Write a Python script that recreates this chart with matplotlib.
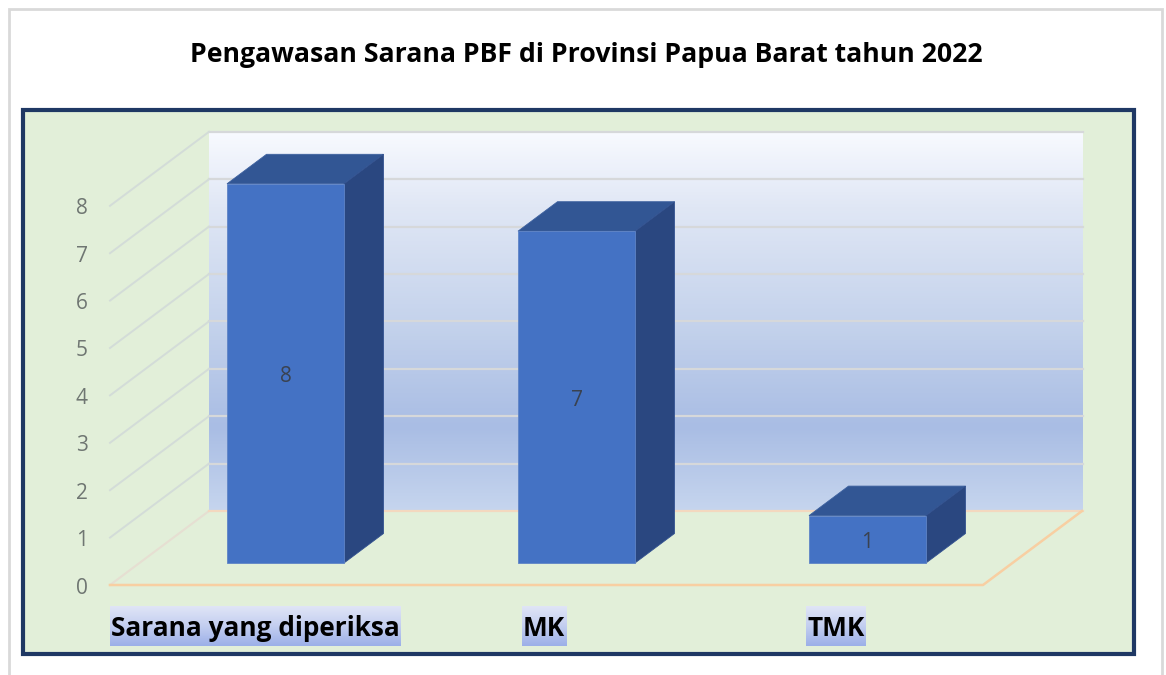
import numpy as np
import matplotlib
matplotlib.use("Agg")
import matplotlib.pyplot as plt
from matplotlib.colors import LinearSegmentedColormap
from matplotlib.patches import Polygon, Rectangle

title = "Pengawasan Sarana PBF di Provinsi Papua Barat tahun 2022"
categories = ["Sarana yang diperiksa", "MK", "TMK"]
values = [8, 7, 1]
yticks = [0, 1, 2, 3, 4, 5, 6, 7, 8]

W, H = 1166, 675
FONT = "Open Sans"
fig = plt.figure(figsize=(W / 100, H / 100), dpi=100, facecolor="white")
ax = fig.add_axes([0, 0, 1, 1])
ax.set_xlim(0, W)
ax.set_ylim(H, 0)
ax.axis("off")

# projection of the chart scale
unit = 47.4
x0, y0 = 110, 585          # front-left floor corner
dx, dy = 99, -74           # wall offset
floor_w = 873
bar_w, bar_off, bar_gap = 117, 117, 291
bar_dx, bar_dy = 39.5, -29.5


def vy(v):
    return y0 - unit * v


# outer frame and inner panel
ax.add_patch(Rectangle((9, 9), 1153, 680, fc="white", ec="#d9d9d9", lw=2, zorder=0))
ax.add_patch(Rectangle((23, 110), 1111, 543.5, fc="#e2efd9", ec="#1f3864", lw=3, zorder=1))

# wall gradient
wall = LinearSegmentedColormap.from_list(
    "wall", [(0, "#f8faff"), (0.2, "#e0e7f5"), (0.5, "#c5d3ec"), (0.78, "#a9bde4"), (1, "#c6d5ee")]
)
wall_top, wall_bot = vy(max(yticks)) + dy, y0 + dy
ax.imshow(np.linspace(0, 1, 256).reshape(-1, 1), cmap=wall, aspect="auto",
          extent=(x0 + dx, x0 + dx + floor_w + 1, wall_bot, wall_top), zorder=2)
ax.set_xlim(0, W)
ax.set_ylim(H, 0)

# gridlines
for t in yticks[1:]:
    y = vy(t)
    ax.plot([x0 + dx, x0 + dx + floor_w + 1], [y + dy, y + dy], color="#d6d8da", lw=1.6, zorder=3)
    ax.plot([x0, x0 + dx], [y, y + dy], color="#d3dcd8", lw=1.4, zorder=3)
for t in yticks:
    ax.text(82, vy(t) + 3, str(t), ha="center", va="center", fontsize=15,
            family=FONT, color="#6f7672", zorder=6)

# floor
floor_c = "#f8cfa2"
ax.plot([x0, x0 + dx], [y0, y0 + dy], color="#e6dfd2", lw=1.5, zorder=3)
ax.plot([x0 + dx, x0 + dx + floor_w + 1], [y0 + dy, y0 + dy], color="#f3d8bf", lw=1.6, zorder=3)
ax.plot([x0, x0 + floor_w, x0 + floor_w + dx], [y0, y0, y0 + dy], color=floor_c, lw=1.8, zorder=3)

# bars
base_y = 563
for i, v in enumerate(values):
    l = x0 + bar_off + bar_gap * i
    r = l + bar_w
    top = base_y - unit * v
    ec = "#5f84c6"
    ax.add_patch(Polygon([(l, top), (l + bar_dx, top + bar_dy), (r + bar_dx, top + bar_dy), (r, top)],
                         fc="#325694", ec="#3d619f", lw=0.6, zorder=4))
    ax.add_patch(Polygon([(r, top), (r + bar_dx, top + bar_dy), (r + bar_dx, base_y + bar_dy), (r, base_y)],
                         fc="#2a4780", ec="#335290", lw=0.6, zorder=4))
    ax.add_patch(Rectangle((l, top), bar_w, unit * v, fc="#4472c4", ec=ec, lw=0.6, zorder=5))
    ax.text((l + r) / 2, (top + base_y) / 2 + 3, str(v), ha="center", va="center", fontsize=15,
            family=FONT, color="#3a4250", zorder=6)

# category labels with gradient highlight
hl = LinearSegmentedColormap.from_list("hl", ["#e0e5f6", "#c3cef0", "#9cb0e8"])
label_x = [111, 523, 807]
fig.canvas.draw()
rend = fig.canvas.get_renderer()
for c, x in zip(categories, label_x):
    t = ax.text(x, 628, c, ha="left", va="center", fontsize=18.9, fontweight="bold",
                family=FONT, color="black", zorder=8)
    bb = t.get_window_extent(rend)
    ax.imshow(np.linspace(0, 1, 64).reshape(-1, 1), cmap=hl, aspect="auto",
              extent=(x - 1, bb.x1 + 1, 646, 606), zorder=7)
ax.set_xlim(0, W)
ax.set_ylim(H, 0)

ax.text(586.5, 55, title, ha="center", va="center", fontsize=19.2, fontweight="bold",
        family=FONT, color="black", zorder=8)

fig.savefig("out.png", dpi=100, facecolor="white")
